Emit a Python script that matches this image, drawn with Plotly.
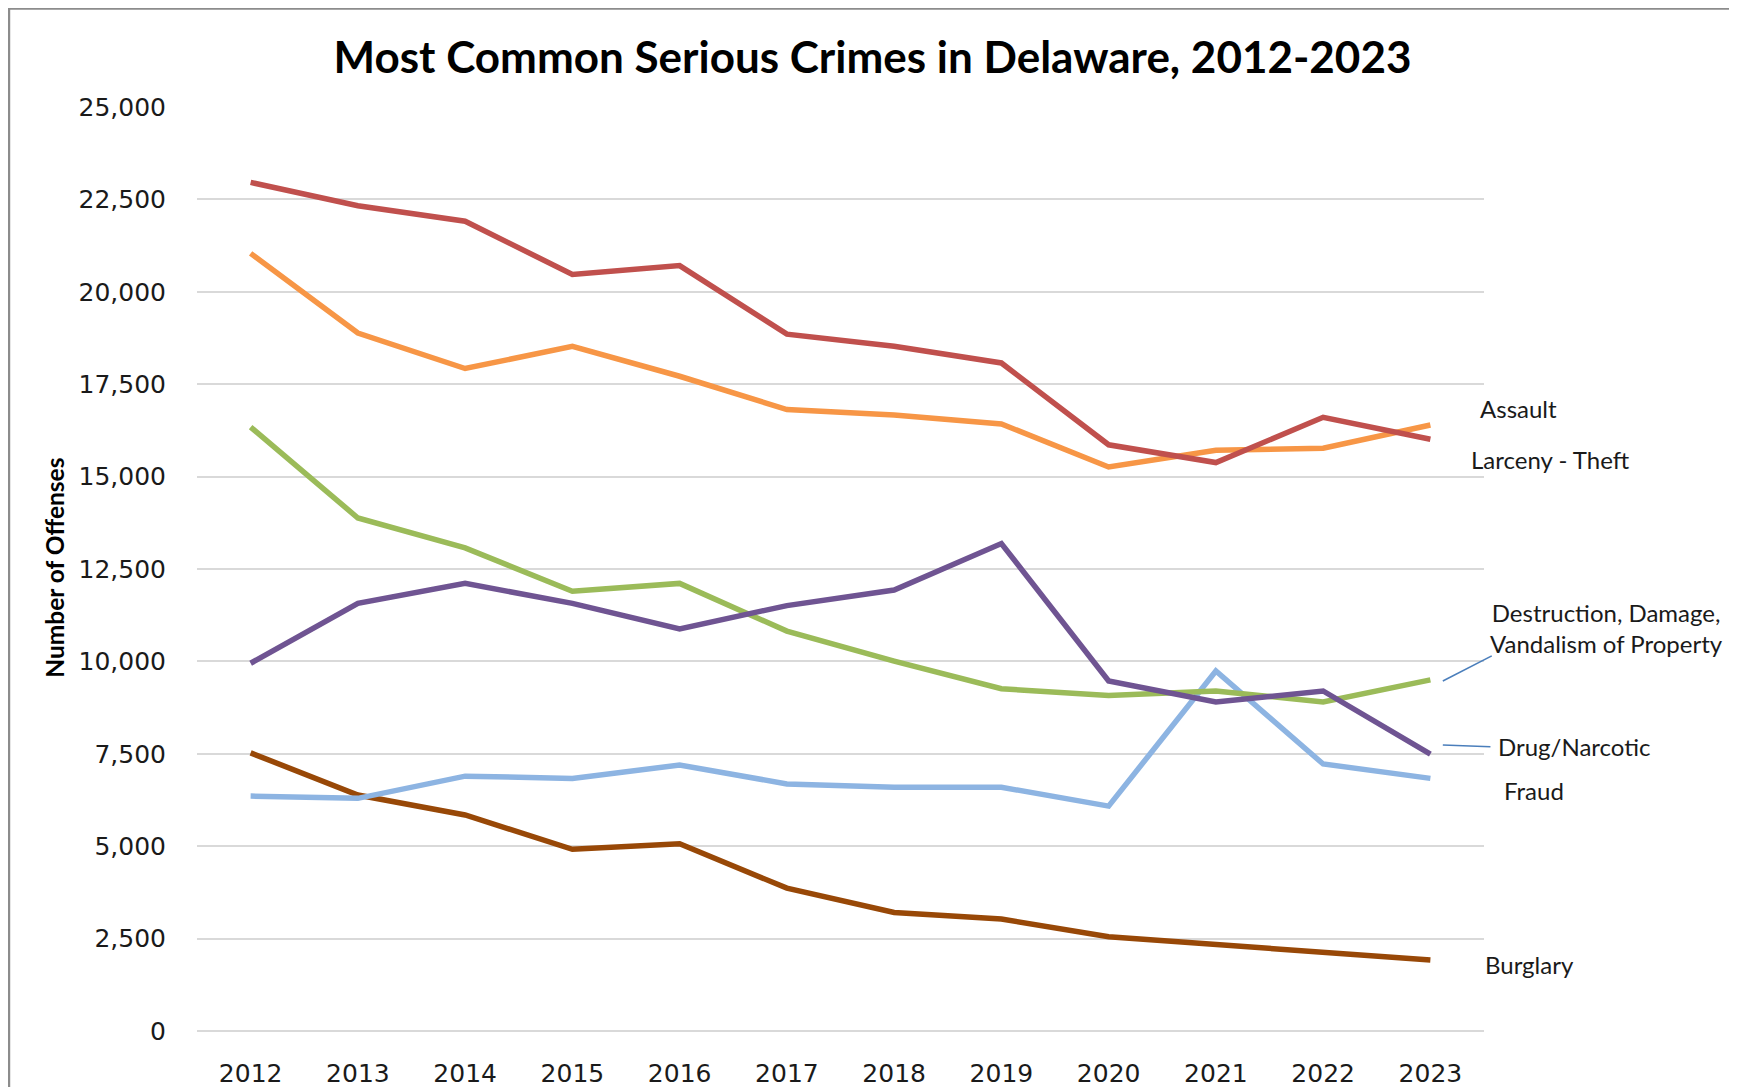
import plotly.graph_objects as go

years = ["2012", "2013", "2014", "2015", "2016", "2017", "2018", "2019", "2020", "2021", "2022", "2023"]

assault = [22960, 22330, 21910, 20470, 20710, 18855, 18525, 18075, 15860, 15380, 16605, 16010]
larceny = [21040, 18885, 17925, 18525, 17715, 16815, 16665, 16425, 15260, 15710, 15770, 16395]
destruction = [16340, 13880, 13070, 11900, 12110, 10820, 10010, 9260, 9080, 9200, 8900, 9500]
drug = [9950, 11570, 12110, 11570, 10880, 11510, 11930, 13190, 9470, 8900, 9200, 7490]
fraud = [6355, 6295, 6895, 6835, 7195, 6685, 6595, 6595, 6085, 9740, 7225, 6835]
burglary = [7525, 6385, 5845, 4915, 5065, 3865, 3205, 3030, 2550, 2340, 2100, 1920]

series = [
    ("Burglary", burglary, "#984807"),
    ("Fraud", fraud, "#8DB4E2"),
    ("Destruction, Damage, Vandalism of Property", destruction, "#9BBB59"),
    ("Drug/Narcotic", drug, "#6F5492"),
    ("Larceny - Theft", larceny, "#F79646"),
    ("Assault", assault, "#C0504D"),
]

y_ticks = [0, 2500, 5000, 7500, 10000, 12500, 15000, 17500, 20000, 22500, 25000]

fig = go.Figure()
for name, vals, color in series:
    fig.add_trace(go.Scatter(
        x=years, y=vals, mode="lines", name=name,
        line=dict(color=color, width=5.5), showlegend=False,
    ))

label_font = dict(family="Lato, Open Sans, sans-serif", size=24, color="#1a1a1a")

annotations = [
    dict(text="Assault", x=0.9950, y=16840, xanchor="left"),
    dict(text="Larceny - Theft", x=0.9880, y=15457, xanchor="left"),
    dict(text="Destruction, Damage,<br>Vandalism of Property", x=1.0948, y=10896, xanchor="center"),
    dict(text="Drug/Narcotic", x=1.0090, y=7688, xanchor="left"),
    dict(text="Fraud", x=1.0136, y=6497, xanchor="left"),
    dict(text="Burglary", x=0.9995, y=1787, xanchor="left"),
]
for a in annotations:
    fig.add_annotation(
        text=a["text"], x=a["x"], y=a["y"], xref="paper", yref="y",
        xanchor=a["xanchor"], yanchor="middle", showarrow=False,
        font=label_font, align="center",
    )

fig.add_annotation(
    text="<b>Number of Offenses</b>", x=-0.1103, y=0.5014, xref="paper", yref="paper",
    textangle=-90, showarrow=False, xanchor="center", yanchor="middle",
    font=dict(family="Lato, Open Sans, sans-serif", size=24.5, color="#000000"),
)

# leader lines
fig.add_shape(type="line", xref="paper", yref="y", x0=0.968, y0=9470, x1=1.006, y1=10150,
              line=dict(color="#4A7EBB", width=1.5))
fig.add_shape(type="line", xref="paper", yref="y", x0=0.968, y0=7740, x1=1.005, y1=7690,
              line=dict(color="#4A7EBB", width=1.5))

# outer chart border
fig.add_shape(type="rect", xref="paper", yref="paper", x0=-0.1461, x1=1.195, y0=-0.2, y1=1.1067,
              line=dict(color="#8C8C8C", width=2.5), fillcolor="rgba(0,0,0,0)", layer="below")

fig.update_layout(
    width=1729, height=1079,
    margin=dict(l=189, r=253, t=99, b=56, autoexpand=False),
    paper_bgcolor="white", plot_bgcolor="white",
    title=dict(
        text="<b>Most Common Serious Crimes in Delaware, 2012-2023</b>",
        x=0.5, xanchor="center", y=0.954, yanchor="middle",
        font=dict(family="Lato, Open Sans, sans-serif", size=44, color="#000000"),
    ),
    xaxis=dict(
        type="category", range=[-0.5, 11.5], showgrid=False, showline=False,
        zeroline=False, ticks="", ticklabelstandoff=25, automargin=False,
        tickfont=dict(family="DejaVu Sans", size=25, color="#1a1a1a"),
    ),
    yaxis=dict(
        range=[0, 25000], tickvals=y_ticks, tickformat=",d", automargin=False,
        showgrid=True, gridcolor="#D9D9D9", gridwidth=2,
        zeroline=True, zerolinecolor="#D9D9D9", zerolinewidth=2,
        showline=False, ticks="", ticklabelstandoff=30,
        tickfont=dict(family="DejaVu Sans", size=25, color="#1a1a1a"),
    ),
)

fig.write_html("out.html")
